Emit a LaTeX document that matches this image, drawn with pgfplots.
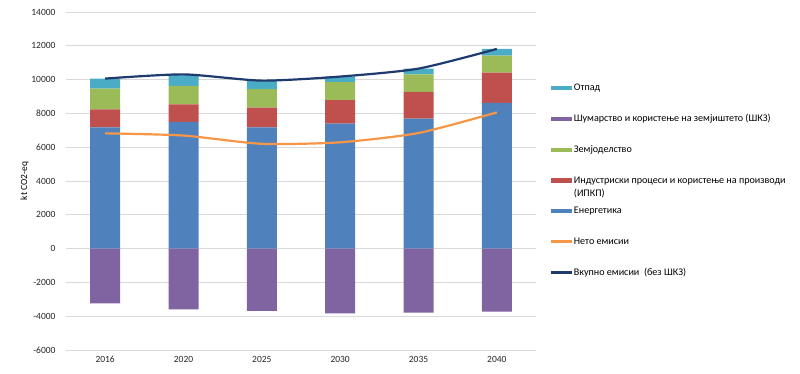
\documentclass[border=0pt]{standalone}
\usepackage{pgfplots}
\pgfplotsset{compat=1.18}
\usepackage{fontspec}
\setmainfont{Carlito}
\definecolor{cEn}{HTML}{4F81BD}
\definecolor{cInd}{HTML}{C0504D}
\definecolor{cAgr}{HTML}{9BBB59}
\definecolor{cFor}{HTML}{8064A2}
\definecolor{cWas}{HTML}{4BACC6}
\definecolor{cNet}{HTML}{F79646}
\definecolor{cTot}{HTML}{1F3A6E}
\pgfplotsset{
  common/.style={
    at={(66pt,23pt)}, anchor=south west, scale only axis,
    width=470pt, height=338pt,
    xmin=-0.5, xmax=5.5, ymin=-6000, ymax=14000,
  },
  barleg/.style={legend image code/.code={\fill[##1] (0pt,-2.2pt) rectangle (21pt,2.2pt);}},
  lineleg/.style={legend image code/.code={\fill[##1] (0pt,-1.2pt) rectangle (21pt,1.2pt);}},
}
\begin{document}
\begin{tikzpicture}
\path[use as bounding box] (0,0) rectangle (800pt,373pt);
\begin{axis}[common,
  ybar stacked, bar width=30pt,
  axis line style={draw=none}, tick style={draw=none},
  xtick={0,1,2,3,4,5},
  xticklabels={2016,2020,2025,2030,2035,2040},
  ytick={-6000,-4000,...,14000},
  scaled y ticks=false,
  ymajorgrids, grid style={draw=black!15, line width=0.8pt},
  /pgf/number format/assume math mode=true,
  /pgf/number format/.cd, 1000 sep={}, /pgfplots/.cd,
  tick label style={font=\fontsize{9.5}{11}\selectfont, text=black!85},
  x tick label style={yshift=-3pt},
  y tick label style={xshift=-7pt},
  ylabel={kt CO2-eq},
  ylabel style={at={(axis description cs:-0.088,0.5)}, anchor=center, font=\fontsize{9.5}{11}\selectfont},
]
\addplot[fill=cEn, draw=none] coordinates {(0,7180) (1,7500) (2,7180) (3,7400) (4,7690) (5,8620)};
\addplot[fill=cInd, draw=none] coordinates {(0,1060) (1,1040) (2,1160) (3,1380) (4,1580) (5,1790)};
\addplot[fill=cAgr, draw=none] coordinates {(0,1220) (1,1090) (2,1090) (3,1070) (4,1040) (5,1010)};
\addplot[fill=cWas, draw=none] coordinates {(0,600) (1,650) (2,510) (3,330) (4,340) (5,400)};
\end{axis}
\begin{axis}[common, hide axis,
  ybar, bar width=30pt,
  legend cell align=left,
  legend style={at={(axis description cs:1.025,0.80)}, anchor=north west, draw=none, fill=none,
    font=\fontsize{10.1}{11.5}\selectfont, row sep=18.5pt},
]
\addplot[fill=cFor, draw=none, bar shift=0pt, forget plot] coordinates {(0,-3240) (1,-3590) (2,-3690) (3,-3830) (4,-3790) (5,-3730)};
\addplot[sharp plot, smooth, tension=0.4, cNet, line width=2.2pt, forget plot] coordinates {(0,6820) (1,6690) (2,6200) (3,6290) (4,6840) (5,8060)};
\addplot[sharp plot, smooth, tension=0.4, cTot, line width=2.2pt, forget plot] coordinates {(0,10060) (1,10310) (2,9940) (3,10180) (4,10650) (5,11815)};
\addlegendimage{barleg, fill=cWas, draw=none}
\addlegendentry{Отпад}
\addlegendimage{barleg, fill=cFor, draw=none}
\addlegendentry{Шумарство и користење на земјиштето (ШКЗ)}
\addlegendimage{barleg, fill=cAgr, draw=none}
\addlegendentry{Земјоделство}
\addlegendimage{barleg, fill=cInd, draw=none}
\addlegendentry{\makebox[0pt][l]{\raisebox{-13pt}[0pt][0pt]{(ИПКП)}}Индустриски процеси и користење на производи}
\addlegendimage{barleg, fill=cEn, draw=none}
\addlegendentry{Енергетика}
\addlegendimage{lineleg, fill=cNet, draw=none}
\addlegendentry{Нето емисии}
\addlegendimage{lineleg, fill=cTot, draw=none}
\addlegendentry{Вкупно емисии\ \ (без ШКЗ)}
\end{axis}
\end{tikzpicture}
\end{document}
